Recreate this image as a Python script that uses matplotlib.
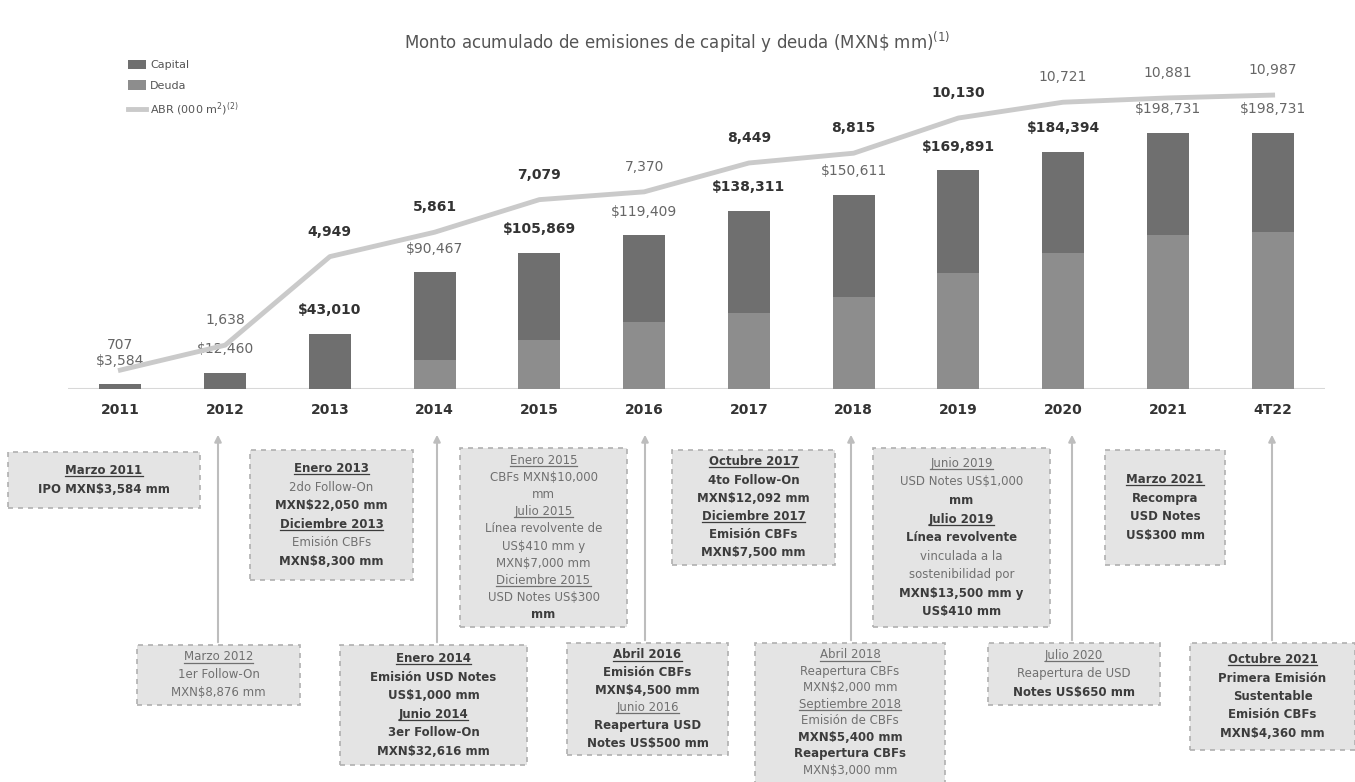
import matplotlib
matplotlib.use("Agg")
import matplotlib.pyplot as plt
from matplotlib.patches import Rectangle, FancyArrowPatch
from matplotlib.lines import Line2D

# ---------------- data ----------------
periods = ["2011", "2012", "2013", "2014", "2015", "2016", "2017", "2018", "2019", "2020", "2021", "4T22"]
total_mxn = [3584, 12460, 43010, 90467, 105869, 119409, 138311, 150611, 169891, 184394, 198731, 198731]
deuda_mxn = [0, 0, 0, 22500, 38000, 52000, 59000, 71400, 90000, 105600, 119600, 121900]
capital_mxn = [t - d for t, d in zip(total_mxn, deuda_mxn)]
abr_values = [707, 1638, 4949, 5861, 7079, 7370, 8449, 8815, 10130, 10721, 10881, 10987]

bar_label_bold = [False, False, True, False, True, False, True, False, True, True, False, False]
abr_label_bold = [False, False, True, True, True, False, True, True, True, False, False, False]

title = "Monto acumulado de emisiones de capital y deuda (MXN\\$ mm)$^{(1)}$"

# annotation boxes: (x0, y0, x1, y1) in pixels from top-left, lines (text, style)
# style: 'u' underlined header, 'ub' bold underlined, 'b' bold, 'n' normal
boxes = [
    ((8, 452, 200, 508), [("Marzo 2011", "ub"), ("IPO MXN$3,584 mm", "b")]),
    ((250, 450, 413, 580), [("Enero 2013", "ub"), ("2do Follow-On", "n"), ("MXN$22,050 mm", "b"),
                            ("Diciembre 2013", "ub"), ("Emisión CBFs", "n"), ("MXN$8,300 mm", "b")]),
    ((460, 448, 627, 627), [("Enero 2015", "u"), ("CBFs MXN$10,000", "n"), ("mm", "n"), ("Julio 2015", "u"),
                            ("Línea revolvente de", "n"), ("US$410 mm y", "n"), ("MXN$7,000 mm", "n"),
                            ("Diciembre 2015", "u"), ("USD Notes US$300", "n"), ("mm", "b")]),
    ((672, 450, 835, 565), [("Octubre 2017", "ub"), ("4to Follow-On", "b"), ("MXN$12,092 mm", "b"),
                            ("Diciembre 2017", "ub"), ("Emisión CBFs", "b"), ("MXN$7,500 mm", "b")]),
    ((873, 448, 1050, 627), [("Junio 2019", "u"), ("USD Notes US$1,000", "n"), ("mm", "b"), ("Julio 2019", "ub"),
                             ("Línea revolvente", "b"), ("vinculada a la", "n"), ("sostenibilidad por", "n"),
                             ("MXN$13,500 mm y", "b"), ("US$410 mm", "b")]),
    ((1105, 450, 1225, 565), [("Marzo 2021", "ub"), ("Recompra", "b"), ("USD Notes", "b"), ("US$300 mm", "b")]),
    ((137, 645, 300, 705), [("Marzo 2012", "u"), ("1er Follow-On", "n"), ("MXN$8,876 mm", "n")]),
    ((340, 645, 527, 765), [("Enero 2014", "ub"), ("Emisión USD Notes", "b"), ("US$1,000 mm", "b"),
                            ("Junio 2014", "ub"), ("3er Follow-On", "b"), ("MXN$32,616 mm", "b")]),
    ((567, 643, 728, 755), [("Abril 2016", "ub"), ("Emisión CBFs", "b"), ("MXN$4,500 mm", "b"),
                            ("Junio 2016", "u"), ("Reapertura USD", "b"), ("Notes US$500 mm", "b")]),
    ((755, 643, 945, 795), [("Abril 2018", "u"), ("Reapertura CBFs", "n"), ("MXN$2,000 mm", "n"),
                            ("Septiembre 2018", "u"), ("Emisión de CBFs", "n"), ("MXN$5,400 mm", "b"),
                            ("Reapertura CBFs", "b"), ("MXN$3,000 mm", "n")]),
    ((988, 643, 1160, 705), [("Julio 2020", "u"), ("Reapertura de USD", "n"), ("Notes US$650 mm", "b")]),
    ((1190, 643, 1355, 750), [("Octubre 2021", "ub"), ("Primera Emisión", "b"), ("Sustentable", "b"),
                              ("Emisión CBFs", "b"), ("MXN$4,360 mm", "b")]),
]
arrows = [(218, 645), (437, 645), (645, 643), (851, 643), (1072, 643), (1272, 643)]

# ---------------- figure ----------------
W, H = 1355, 782
fig = plt.figure(figsize=(W / 100, H / 100), dpi=100)
fig.patch.set_facecolor("white")

def fx(x):
    return x / W

def fy(y):
    return 1 - y / H

CAP_C = "#6f6f6f"
DEU_C = "#8d8d8d"
LINE_C = "#cacaca"
TXT_D = "#333333"
TXT_L = "#666666"

ax_left, ax_right, ax_top, ax_bot = 68, 1325, 60, 389
ax = fig.add_axes([fx(ax_left), fy(ax_bot), (ax_right - ax_left) / W, (ax_bot - ax_top) / H])
x = list(range(len(periods)))
ax.set_xlim(-0.5, len(periods) - 0.5)
ax.set_ylim(0, (ax_bot - ax_top) / 1.288 * 1000)

b_deu = ax.bar(x, deuda_mxn, width=0.4, color=DEU_C, zorder=2)
b_cap = ax.bar(x, capital_mxn, width=0.4, bottom=deuda_mxn, color=CAP_C, zorder=2)

for xi, tv, bold in zip(x, total_mxn, bar_label_bold):
    ax.annotate(f"${tv:,}", (xi, tv), xytext=(0, 17), textcoords="offset points",
                ha="center", va="center", fontsize=10,
                fontweight="bold" if bold else "normal",
                color=TXT_D if bold else TXT_L, zorder=5)

for s in ax.spines.values():
    s.set_visible(False)
ax.axhline(0, color="#d8d8d8", lw=1.5, zorder=1)
ax.set_yticks([])
ax.set_xticks(x)
ax.set_xticklabels(periods, fontsize=10, fontweight="bold", color=TXT_D)
ax.tick_params(axis="x", length=0, pad=10)

ax2 = ax.twinx()
ax2.set_ylim(0, (ax_bot - ax_top) / 0.02675)
for s in ax2.spines.values():
    s.set_visible(False)
ax2.set_yticks([])
(ln,) = ax2.plot(x, abr_values, color=LINE_C, lw=3.5, zorder=3)
for xi, v, bold in zip(x, abr_values, abr_label_bold):
    ax2.annotate(f"{v:,}", (xi, v), xytext=(0, 18), textcoords="offset points",
                 ha="center", va="center", fontsize=10,
                 fontweight="bold" if bold else "normal",
                 color=TXT_D if bold else TXT_L, zorder=5)

fig.text(fx(677), fy(42), title, ha="center", va="center", fontsize=12, color="#555555")

fig.legend([b_cap, b_deu, ln], ["Capital", "Deuda", "ABR (000 m$^2$)$^{(2)}$"],
           loc="upper left", bbox_to_anchor=(fx(118), fy(50)), frameon=False,
           fontsize=8, handlelength=1.6, handleheight=0.9, labelspacing=0.9,
           handletextpad=0.4, labelcolor="#555555")

# ---------------- annotation boxes ----------------
underline_items = []
for (x0, y0, x1, y1), lines in boxes:
    rect = Rectangle((fx(x0), fy(y1)), (x1 - x0) / W, (y1 - y0) / H, transform=fig.transFigure,
                     facecolor="#e4e4e4", edgecolor="#b0b0b0", lw=1.2, ls=(0, (3, 3)), zorder=1)
    fig.add_artist(rect)
    n = len(lines)
    pad = 12
    yb = min(y1, 782)
    avail = (yb - y0 - 2 * pad) / max(n - 1, 1)
    step = min(18.5, avail)
    first = (y0 + yb) / 2 - step * (n - 1) / 2
    cx = (x0 + x1) / 2
    for i, (t, st) in enumerate(lines):
        bold = "b" in st
        tt = fig.text(fx(cx), fy(first + i * step), t, ha="center", va="center",
                      fontsize=8.5, fontweight="bold" if bold else "normal",
                      color="#3c3c3c" if bold else "#707070", zorder=3)
        if "u" in st:
            underline_items.append(tt)

for (ax_x, ytop) in arrows:
    arr = FancyArrowPatch((fx(ax_x), fy(ytop)), (fx(ax_x), fy(432)), transform=fig.transFigure,
                          arrowstyle="-|>", mutation_scale=10, color="#bdbdbd", lw=1.5, zorder=0)
    fig.add_artist(arr)

fig.canvas.draw()
r = fig.canvas.get_renderer()
for tt in underline_items:
    bb = tt.get_window_extent(r)
    yline = (bb.y0 + 1) / fig.bbox.height
    fig.add_artist(Line2D([bb.x0 / fig.bbox.width, bb.x1 / fig.bbox.width], [yline, yline],
                          transform=fig.transFigure, color=tt.get_color(), lw=0.9))

fig.savefig("out.png", dpi=100)
